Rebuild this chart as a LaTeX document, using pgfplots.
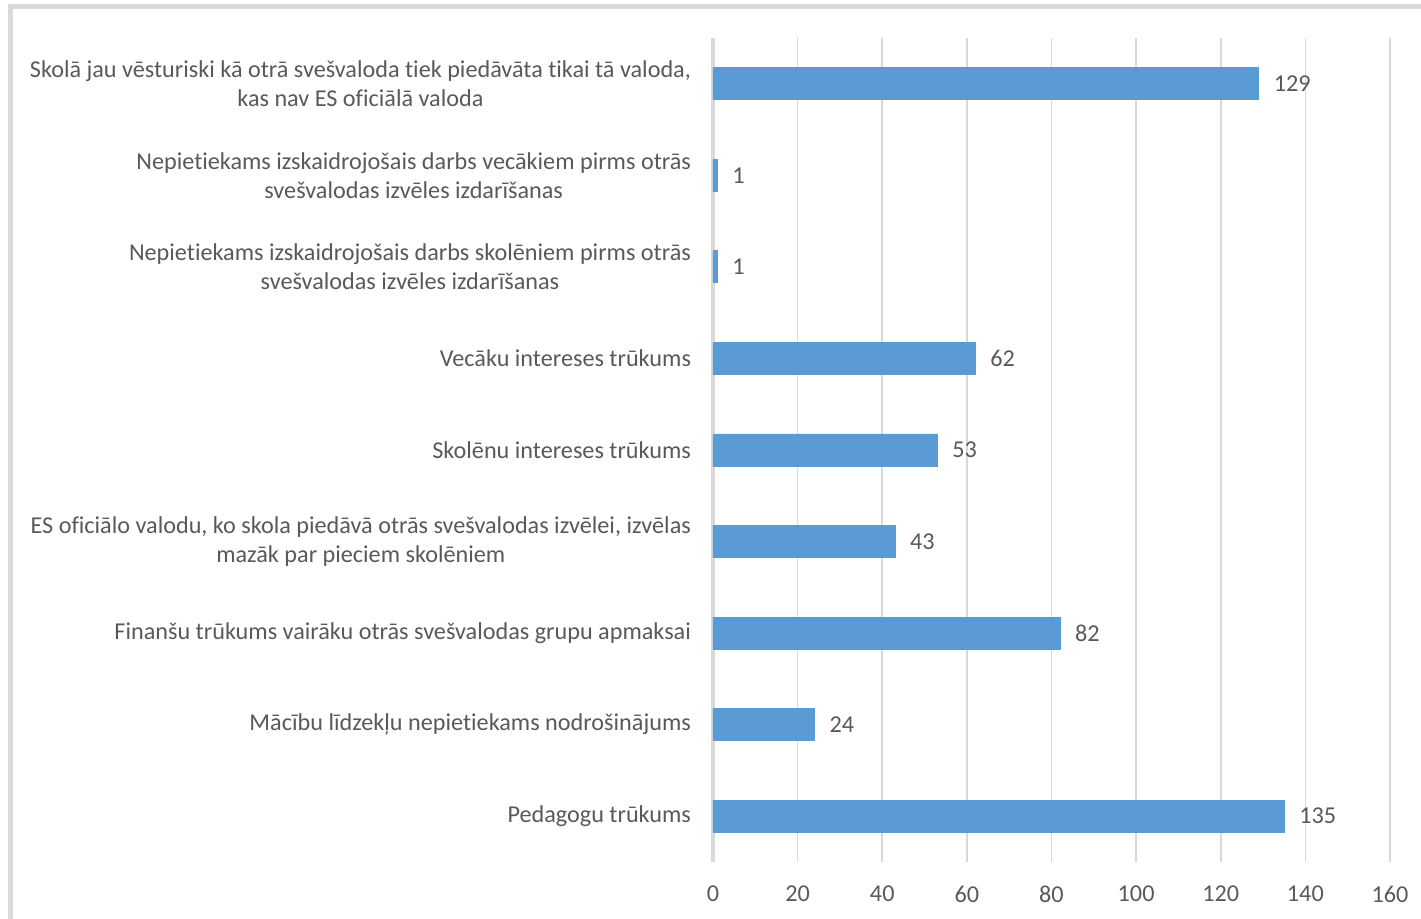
\documentclass[border=0pt]{standalone}
\usepackage{fontspec}
\setmainfont{Carlito}[Ligatures=NoCommon]
\usepackage{pgfplots}
\pgfplotsset{compat=1.18}
\definecolor{barblue}{HTML}{5B9BD5}
\definecolor{txt}{HTML}{595959}
\definecolor{gridc}{HTML}{D9D9D9}

\begin{document}
\begin{tikzpicture}
\useasboundingbox (0pt,0pt) rectangle (710.5pt,459.5pt);
% chart frame (cut at right and bottom)
\draw[gridc, line width=2.5pt] (5pt,-5pt) -- (5pt,456pt) -- (715pt,456pt);
\begin{axis}[
    at={(356.5pt,28.5pt)}, anchor=south west,
    scale only axis, width=338.5pt, height=412pt,
    xbar, bar width=16pt,
    xmin=0, xmax=160, xtick={0,20,...,160},
    ymin=-0.5, ymax=8.5, ytick={0,...,8},
    yticklabels={
        Pedagogu trūkums,
        Mācību līdzekļu nepietiekams nodrošinājums,
        Finanšu trūkums vairāku otrās svešvalodas grupu apmaksai,
        {ES oficiālo valodu, ko skola piedāvā otrās svešvalodas izvēlei, izvēlas\\mazāk par pieciem skolēniem},
        Skolēnu intereses trūkums,
        Vecāku intereses trūkums,
        {Nepietiekams izskaidrojošais darbs skolēniem pirms otrās\\svešvalodas izvēles izdarīšanas},
        {Nepietiekams izskaidrojošais darbs vecākiem pirms otrās\\svešvalodas izvēles izdarīšanas},
        {Skolā jau vēsturiski kā otrā svešvaloda tiek piedāvāta tikai tā valoda,\\kas nav ES oficiālā valoda}
    },
    yticklabel style={align=center, xshift=-7.5pt},
    xticklabel style={yshift=-8.5pt},
    ticklabel style={font=\fontsize{12.1}{14.5}\selectfont, text=txt},
    /pgf/number format/assume math mode=true,
    major tick length=0pt,
    xmajorgrids, major grid style={gridc, line width=0.8pt},
    axis x line*=bottom, axis y line*=left,
    x axis line style={draw=none},
    y axis line style={gridc, line width=1.6pt, -},
    nodes near coords,
    nodes near coords style={font=\fontsize{12.1}{14}\selectfont, text=txt, anchor=west, xshift=4pt},
    clip=false,
]
\addplot[draw=barblue, fill=barblue] coordinates {
    (135,0) (24,1) (82,2) (43,3) (53,4) (62,5) (1,6) (1,7) (129,8)
};
\end{axis}
\end{tikzpicture}
\end{document}
